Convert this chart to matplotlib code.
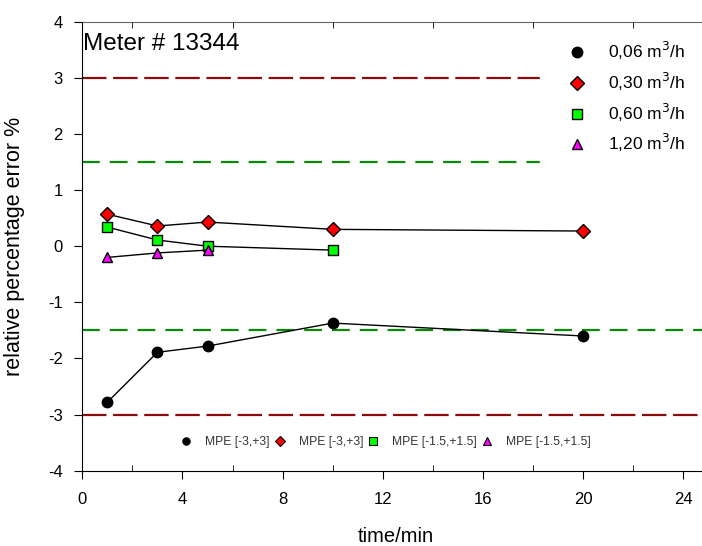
import matplotlib
matplotlib.use("Agg")
import matplotlib.pyplot as plt
from matplotlib.lines import Line2D
from matplotlib.ticker import MultipleLocator

plt.rcParams['font.family'] = ['Liberation Sans', 'DejaVu Sans']
plt.rcParams['axes.unicode_minus'] = False

# data: time in minutes, relative percentage error
t_006 = [1, 3, 5, 10, 20]
e_006 = [-2.78, -1.89, -1.78, -1.37, -1.60]
t_030 = [1, 3, 5, 10, 20]
e_030 = [0.57, 0.36, 0.43, 0.30, 0.27]
t_060 = [1, 3, 5, 10]
e_060 = [0.34, 0.11, 0.00, -0.07]
t_120 = [1, 3, 5]
e_120 = [-0.20, -0.12, -0.07]

labels = ['0,06 m$^3$/h', '0,30 m$^3$/h', '0,60 m$^3$/h', '1,20 m$^3$/h']
mpe_labels = ['MPE [-3,+3]', 'MPE [-3,+3]', 'MPE [-1.5,+1.5]', 'MPE [-1.5,+1.5]']
mpe_wide = [3.0, -3.0]
mpe_narrow = [1.5, -1.5]

fig = plt.figure(figsize=(7.02, 5.46), dpi=100)
ax = fig.add_axes([0.1172, 0.1379, 0.892, 0.8224])
ax.set_axisbelow(False)

for y in mpe_wide:
    ax.axhline(y, color='#8b0a0a', lw=1.6, dashes=(11, 3), zorder=1)
for y in mpe_narrow:
    ax.axhline(y, color='#0a8a0a', lw=1.6, dashes=(8, 4.5), zorder=1)

styles = [
    dict(marker='o', mfc='black', ms=7.5),
    dict(marker='D', mfc='red', ms=7),
    dict(marker='s', mfc='#00ff00', ms=7),
    dict(marker='^', mfc='#ff00ff', ms=7.5),
]
series = [(t_006, e_006), (t_030, e_030), (t_060, e_060), (t_120, e_120)]
handles = []
for (tt, ee), st, lab in zip(series, styles, labels):
    ax.plot(tt, ee, color='black', lw=1, mec='black', mew=1, zorder=3, **st)
    handles.append(Line2D([], [], ls='none', mec='black', mew=1, label=lab, **st))

leg = ax.legend(handles=handles, loc='upper right', bbox_to_anchor=(0.99, 0.998),
                fontsize=12.5, frameon=True, fancybox=False, framealpha=1,
                edgecolor='white', facecolor='white', labelspacing=0.5,
                handlelength=2.3, handletextpad=0.6, borderpad=1.0,
                borderaxespad=0)
leg.set_zorder(2)

small = []
for st, lab in zip(styles, mpe_labels):
    s = dict(st)
    s['ms'] = 5.3
    small.append(Line2D([], [], ls='none', mec='black', mew=0.8, label=lab, **s))
leg2 = ax.legend(handles=small, loc='center', bbox_to_anchor=(12.08, -3.485),
                 bbox_transform=ax.transData, ncol=4, frameon=False,
                 prop={'size': 8.7}, handletextpad=1.0, columnspacing=0.2,
                 handlelength=1.2, labelcolor='#333333')
ax.add_artist(leg)

ax.text(0.03, 3.6, 'Meter # 13344', fontsize=17.5, ha='left', va='center')

ax.set_xlim(0, 25)
ax.set_ylim(-4, 4)
ax.xaxis.set_major_locator(MultipleLocator(4))
ax.xaxis.set_minor_locator(MultipleLocator(2))
ax.yaxis.set_major_locator(MultipleLocator(1))
ax.tick_params(axis='x', which='major', direction='out', length=6, labelsize=12, pad=9)
ax.tick_params(axis='x', which='minor', direction='in', length=4, top=True)
ax.tick_params(axis='y', which='major', direction='out', length=6, labelsize=12, pad=8)
ax.spines['top'].set_color('#666666')
ax.spines['right'].set_visible(False)

ax.set_xlabel('time/min', fontsize=14.5)
ax.set_ylabel('relative percentage error %', fontsize=15.5)
ax.xaxis.set_label_coords(0.5, -0.125)
ax.yaxis.set_label_coords(-0.092, 0.5)

fig.savefig('out.png', dpi=100)
